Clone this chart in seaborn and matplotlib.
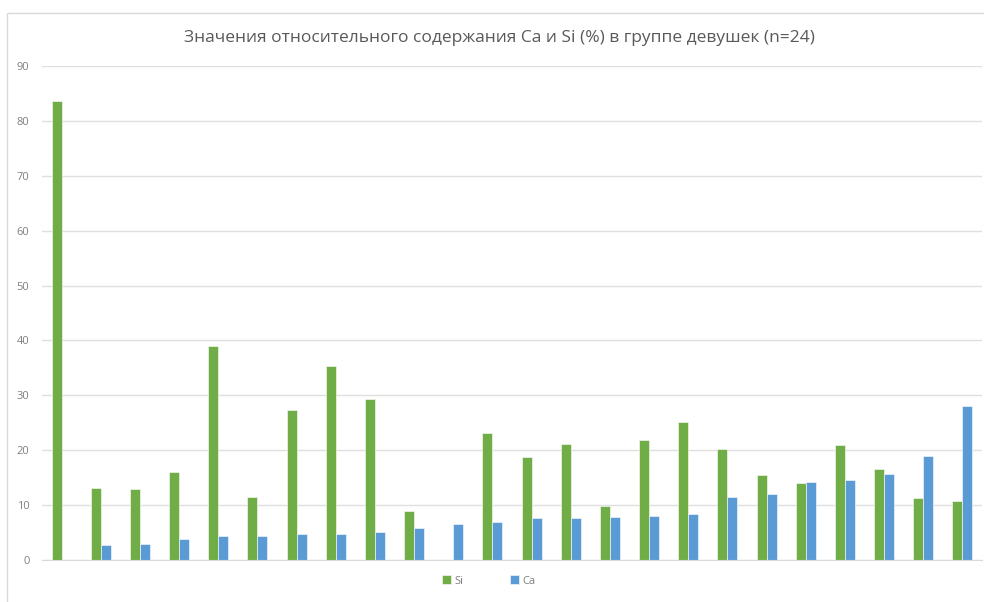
import numpy as np
import pandas as pd
import seaborn as sns
import matplotlib.pyplot as plt
from matplotlib.patches import Rectangle

# values (24 girls)
subjects = [str(i) for i in range(1, 25)]
si_values = [83.7, 13.1, 13.0, 16.1, 38.9, 11.5, 27.4, 35.4, 29.3, 9.0, 0.0, 23.1,
             18.8, 21.1, 9.9, 21.9, 25.2, 20.3, 15.4, 14.1, 21.0, 16.6, 11.3, 10.7]
ca_values = [0.0, 2.8, 3.0, 3.9, 4.3, 4.4, 4.7, 4.7, 5.1, 5.9, 6.6, 7.0,
             7.6, 7.6, 7.8, 8.0, 8.4, 11.5, 12.0, 14.2, 14.6, 15.6, 19.0, 28.1]
series = ['Si', 'Ca']
colors = ['#70AD47', '#5B9BD5']
title = 'Значения относительного содержания Ca и Si (%) в группе девушек (n=24)'

df = pd.DataFrame({'subject': subjects * 2,
                   'value': si_values + ca_values,
                   'element': ['Si'] * 24 + ['Ca'] * 24})

sns.set_style('white')
plt.rcParams['font.family'] = ['Open Sans', 'DejaVu Sans']

fig = plt.figure(figsize=(9.84, 6.02), dpi=100)
ax = fig.add_axes([42 / 984, 1 - 560 / 602, (982 - 42) / 984, (560 - 66) / 602])

sns.barplot(data=df, x='subject', y='value', hue='element', hue_order=series,
            palette=colors, width=0.51, gap=0, saturation=1, ax=ax, legend=True,
            edgecolor='white', linewidth=0.4)

ax.set_ylim(0, 90)
ax.set_yticks(np.arange(0, 91, 10))
ax.set_xlim(-0.5, 23.5)
ax.set_xticks([])
ax.set_xlabel('')
ax.set_ylabel('')
ax.grid(axis='y', color='#E0E0E0', linewidth=1)
ax.set_axisbelow(True)
for side in ['left', 'right', 'top']:
    ax.spines[side].set_visible(False)
ax.spines['bottom'].set_color('#D9D9D9')
ax.tick_params(axis='y', length=0, labelsize=8, labelcolor='#7F7F7F', pad=9)

handles, labels = ax.get_legend_handles_labels()
ax.get_legend().remove()
fig.legend(handles, labels, loc='center', bbox_to_anchor=(0.497, 1 - 581 / 602),
           ncol=2, frameon=False, fontsize=8, labelcolor='#7F7F7F',
           handlelength=0.8, handleheight=0.8, handletextpad=0.3, columnspacing=4.2)

fig.text(0.508, 1 - 38 / 602, title, ha='center', va='center', fontsize=12.5, color='#595959')

# light chart-area frame like the original
fig.patches.append(Rectangle((7 / 984, -0.1), 1.1, 1 - 13 / 602 + 0.1, transform=fig.transFigure,
                             fill=False, edgecolor='#D9D9D9', linewidth=1))

fig.savefig('out.png', dpi=100)
